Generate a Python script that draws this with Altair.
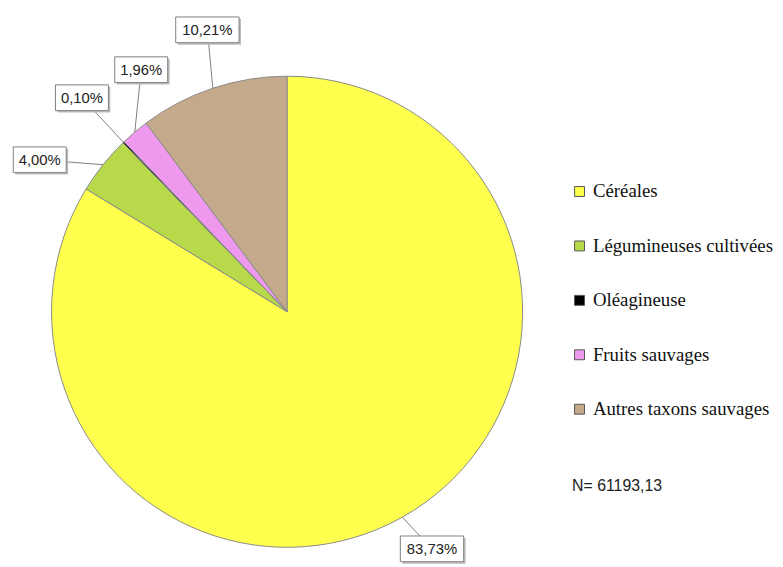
import altair as alt
import pandas as pd
import numpy as np

# ---- data ----
categories = ["Céréales", "Légumineuses cultivées", "Oléagineuse", "Fruits sauvages", "Autres taxons sauvages"]
percentages = [83.73, 4.00, 0.10, 1.96, 10.21]
n_total = "61193,13"

# ---- styles / layout ----
colors = ["#FFFF4D", "#B8D94A", "#000000", "#EE99EE", "#C4AA8A"]
W, H = 775, 559
CX, CY, R = 281, 303, 238          # pie centre and radius (view px)
# label box offsets from slice edge point (layout only)
label_dx = [30, -64, -42, 6.5, -5.5]
label_dy = [32, -5, -45, -63, -59]
BOX_H = 26
SERIF = "Liberation Serif"

df = pd.DataFrame({"cat": categories, "pct": percentages, "idx": range(len(categories))})
df["label"] = [f"{v:.2f}".replace(".", ",") + "%" for v in percentages]

# label anchors computed from the data (mid angle of each slice)
frac = np.array(percentages) / sum(percentages)
cum_end = np.cumsum(frac)
mid = (cum_end - frac / 2) * 2 * np.pi
df["ex"] = CX + R * np.sin(mid)
df["ey"] = CY - R * np.cos(mid)
df["bx"] = df["ex"] + np.array(label_dx)
df["by"] = df["ey"] + np.array(label_dy)
bw = np.array([10.5 * len(s) + 1 for s in df["label"]])
df["x1"] = df["bx"] - bw / 2
df["x2"] = df["bx"] + bw / 2
df["y1"] = df["by"] - BOX_H / 2
df["y2"] = df["by"] + BOX_H / 2
df["sx1"] = df["x1"] + 2
df["sx2"] = df["x2"] + 2
df["sy1"] = df["y1"] + 2
df["sy2"] = df["y2"] + 2

xs = alt.Scale(domain=[0, W], range=[0, W], nice=False, zero=False)
ys = alt.Scale(domain=[0, H], range=[0, H], nice=False, zero=False)

base = alt.Chart(df)

pie = base.mark_arc(radius=R, stroke="#8a8a8a", strokeWidth=1).encode(
    theta=alt.Theta("pct:Q", stack=True),
    order=alt.Order("idx:Q"),
    color=alt.Color(
        "cat:N",
        sort=categories,
        scale=alt.Scale(domain=categories, range=colors),
        legend=alt.Legend(
            title=None,
            orient="none",
            legendX=567,
            legendY=172,
            symbolType="square",
            symbolSize=100,
            symbolStrokeColor="#555555",
            symbolStrokeWidth=1,
            labelFont=SERIF,
            labelFontSize=19,
            labelColor="#111111",
            labelLimit=400,
            labelOffset=4,
            rowPadding=35,
            padding=0,
        ),
    ),
    x=alt.value(CX),
    y=alt.value(CY),
)

leaders = base.mark_rule(color="#7f7f7f", strokeWidth=1).encode(
    x=alt.X("ex:Q", scale=xs, axis=None),
    y=alt.Y("ey:Q", scale=ys, axis=None),
    x2="bx:Q",
    y2="by:Q",
)

shadow = base.mark_rect(color="#bdbdbd").encode(
    x=alt.X("sx1:Q", scale=xs, axis=None),
    x2="sx2:Q",
    y=alt.Y("sy1:Q", scale=ys, axis=None),
    y2="sy2:Q",
)

boxes = base.mark_rect(fill="white", stroke="#7f7f7f", strokeWidth=1).encode(
    x=alt.X("x1:Q", scale=xs, axis=None),
    x2="x2:Q",
    y=alt.Y("y1:Q", scale=ys, axis=None),
    y2="y2:Q",
)

texts = base.mark_text(font="Liberation Sans", fontSize=15, color="#222222",
                       align="center", baseline="middle").encode(
    x=alt.X("bx:Q", scale=xs, axis=None),
    y=alt.Y("by:Q", scale=ys, axis=None),
    text="label:N",
)

ntext = alt.Chart(pd.DataFrame({"t": [f"N= {n_total}"]})).mark_text(
    font="Liberation Sans", fontSize=16, color="#222222", align="left", baseline="middle"
).encode(x=alt.value(569), y=alt.value(479), text="t:N")

chart = (
    alt.layer(pie, leaders, shadow, boxes, texts, ntext)
    .properties(width=W - 2, height=H - 2, autosize=alt.AutoSizeParams(type="none"),
                padding=1, view=alt.ViewBackground(stroke="transparent", strokeWidth=0))
    .configure_view(strokeWidth=0, stroke="transparent")
    .configure(background="white")
)

chart.save("out.html", embed_options={"renderer": "svg", "actions": False})
